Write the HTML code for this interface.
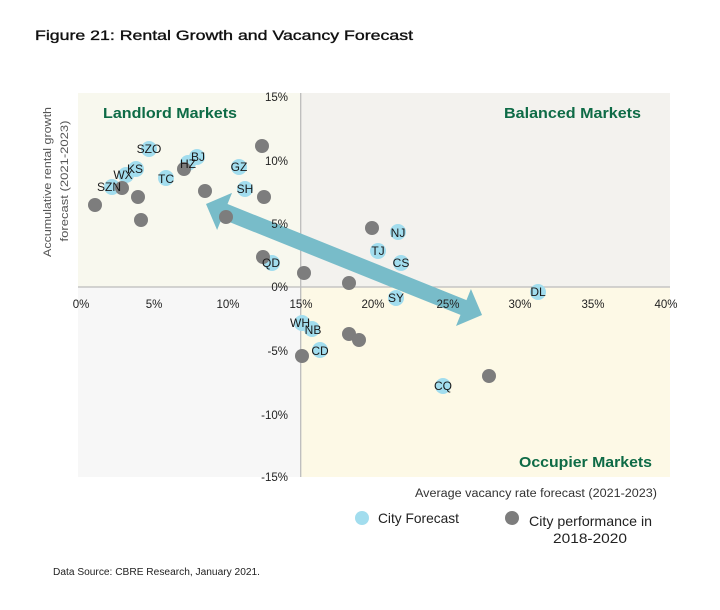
<!DOCTYPE html>
<html>
<head>
<meta charset="utf-8">
<style>
html,body{margin:0;padding:0;background:#fff;}
svg{display:block;}
text{font-family:"Liberation Sans",sans-serif;}
</style>
</head>
<body>
<svg width="720" height="610" viewBox="0 0 720 610" xmlns="http://www.w3.org/2000/svg">
<rect x="0" y="0" width="720" height="610" fill="#ffffff"/>
<!-- title -->
<text x="35" y="40" font-size="14" fill="#111" stroke="#111" stroke-width="0.35" textLength="378" lengthAdjust="spacingAndGlyphs">Figure 21: Rental Growth and Vacancy Forecast</text>

<!-- quadrant backgrounds -->
<rect x="78" y="93" width="223" height="194" fill="#f8f8ee"/>
<rect x="301" y="93" width="369" height="194" fill="#f3f2ee"/>
<rect x="78" y="287" width="223" height="190" fill="#f7f7f7"/>
<rect x="301" y="287" width="369" height="190" fill="#fdf9e6"/>

<!-- axes -->
<line x1="78" y1="287" x2="670" y2="287" stroke="#bcbcbc" stroke-width="1.3"/>
<line x1="300.7" y1="93" x2="300.7" y2="477" stroke="#bcbcbc" stroke-width="1.3"/>

<!-- quadrant labels -->
<g font-size="15" font-weight="bold" fill="#0e6b46">
<text x="103" y="118" textLength="134" lengthAdjust="spacingAndGlyphs">Landlord Markets</text>
<text x="504" y="118" textLength="137" lengthAdjust="spacingAndGlyphs">Balanced Markets</text>
<text x="519" y="467" textLength="133" lengthAdjust="spacingAndGlyphs">Occupier Markets</text>
</g>

<!-- arrow -->
<g transform="translate(206,204) rotate(21.9)">
<polygon points="0,0 20,-20 20,-8 277.5,-8 277.5,-20 297.5,0 277.5,20 277.5,8 20,8 20,20" fill="#78bcc9"/>
</g>

<!-- y tick labels -->
<g font-size="11.5" fill="#222" text-anchor="end">
<text x="288" y="101">15%</text>
<text x="288" y="165">10%</text>
<text x="288" y="228">5%</text>
<text x="288" y="291">0%</text>
<text x="288" y="355">-5%</text>
<text x="288" y="419">-10%</text>
<text x="288" y="481">-15%</text>
</g>
<!-- x tick labels -->
<g font-size="11.5" fill="#222" text-anchor="middle">
<text x="81" y="308">0%</text>
<text x="154" y="308">5%</text>
<text x="228" y="308">10%</text>
<text x="301" y="308">15%</text>
<text x="373" y="308">20%</text>
<text x="448" y="308">25%</text>
<text x="520" y="308">30%</text>
<text x="593" y="308">35%</text>
<text x="666" y="308">40%</text>
</g>

<!-- blue forecast circles -->
<g fill="#a2ddee">
<circle cx="149" cy="149" r="8"/>
<circle cx="197" cy="157" r="8"/>
<circle cx="188" cy="163" r="8"/>
<circle cx="239" cy="167" r="8"/>
<circle cx="245" cy="189" r="8"/>
<circle cx="166" cy="178" r="8"/>
<circle cx="136" cy="169" r="8"/>
<circle cx="126" cy="175" r="8"/>
<circle cx="112" cy="187" r="8"/>
<circle cx="272" cy="263" r="8"/>
<circle cx="398" cy="232" r="8"/>
<circle cx="378" cy="251" r="8"/>
<circle cx="401" cy="263" r="8"/>
<circle cx="396" cy="298" r="8"/>
<circle cx="538" cy="292" r="8"/>
<circle cx="302" cy="323" r="8"/>
<circle cx="312" cy="329" r="8"/>
<circle cx="320" cy="350" r="8"/>
<circle cx="443" cy="386" r="8"/>
</g>

<!-- gray history circles -->
<g fill="#7d7d7d">
<circle cx="262" cy="146" r="7"/>
<circle cx="95" cy="205" r="7"/>
<circle cx="122" cy="188" r="7"/>
<circle cx="138" cy="197" r="7"/>
<circle cx="141" cy="220" r="7"/>
<circle cx="184" cy="169" r="7"/>
<circle cx="205" cy="191" r="7"/>
<circle cx="226" cy="217" r="7"/>
<circle cx="264" cy="197" r="7"/>
<circle cx="263" cy="257" r="7"/>
<circle cx="304" cy="273" r="7"/>
<circle cx="349" cy="283" r="7"/>
<circle cx="372" cy="228" r="7"/>
<circle cx="302" cy="356" r="7"/>
<circle cx="349" cy="334" r="7"/>
<circle cx="359" cy="340" r="7"/>
<circle cx="489" cy="376" r="7"/>
</g>

<!-- city labels -->
<g font-size="12" fill="#1a1a1a" text-anchor="middle">
<text x="149" y="153">SZO</text>
<text x="198" y="161">BJ</text>
<text x="188" y="168">HZ</text>
<text x="239" y="171">GZ</text>
<text x="245" y="193">SH</text>
<text x="166" y="183">TC</text>
<text x="135" y="173">KS</text>
<text x="123" y="179">WX</text>
<text x="109" y="191">SZN</text>
<text x="271" y="267">QD</text>
<text x="398" y="237">NJ</text>
<text x="378" y="255">TJ</text>
<text x="401" y="267">CS</text>
<text x="396" y="302">SY</text>
<text x="538" y="296">DL</text>
<text x="300" y="327">WH</text>
<text x="313" y="334">NB</text>
<text x="320" y="355">CD</text>
<text x="443" y="390">CQ</text>
</g>

<!-- y axis title -->
<g font-size="11" fill="#555" text-anchor="middle">
<text transform="translate(51,182) rotate(-90)" textLength="150" lengthAdjust="spacingAndGlyphs">Accumulative rental growth</text>
<text transform="translate(68,181) rotate(-90)" textLength="121" lengthAdjust="spacingAndGlyphs">forecast (2021-2023)</text>
</g>

<!-- x axis title -->
<text x="415" y="497" font-size="11.5" fill="#333" textLength="242" lengthAdjust="spacingAndGlyphs">Average vacancy rate forecast (2021-2023)</text>

<!-- legend -->
<circle cx="362" cy="518" r="7" fill="#a2ddee"/>
<text x="378" y="523" font-size="14" fill="#222" textLength="81" lengthAdjust="spacingAndGlyphs">City Forecast</text>
<circle cx="512" cy="518" r="7" fill="#7d7d7d"/>
<text x="529" y="526" font-size="14" fill="#222" textLength="123" lengthAdjust="spacingAndGlyphs">City performance in</text>
<text x="553" y="543" font-size="14" fill="#222" textLength="74" lengthAdjust="spacingAndGlyphs">2018-2020</text>

<!-- source -->
<text x="53" y="575" font-size="10" fill="#222" textLength="207" lengthAdjust="spacingAndGlyphs">Data Source: CBRE Research, January 2021.</text>
</svg>
</body>
</html>
